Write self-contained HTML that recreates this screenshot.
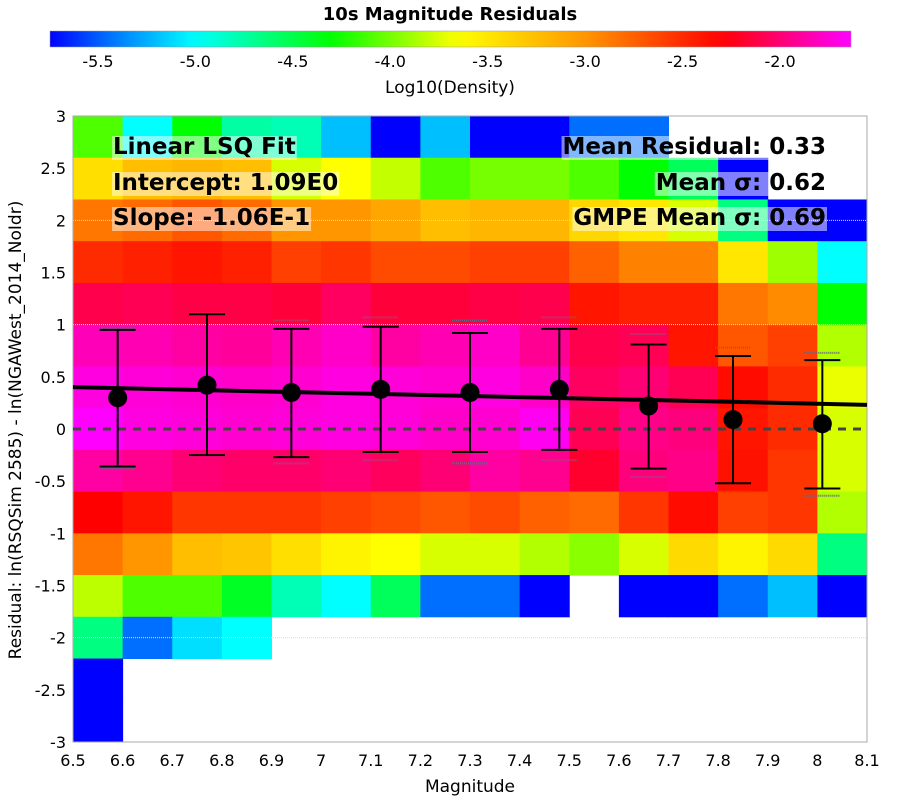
<!DOCTYPE html>
<html><head><meta charset="utf-8"><style>
body{margin:0;background:#fff;width:900px;height:800px;overflow:hidden}
svg{font-family:"DejaVu Sans","Liberation Sans",sans-serif}
</style></head><body>
<svg id="chart" width="900" height="800" xmlns="http://www.w3.org/2000/svg">
<text x="450" y="20" text-anchor="middle" font-size="18" font-weight="bold">10s Magnitude Residuals</text>
<defs><linearGradient id="cg" x1="0" x2="1" y1="0" y2="0"></linearGradient></defs>
<rect x="50" y="31" width="801" height="16" fill="url(#cg)" stroke="#999" stroke-width="0.5"/>
<g id="cbticks"></g>
<text x="450" y="93" text-anchor="middle" font-size="17">Log10(Density)</text>
<g id="cells"></g>
<g id="grid"></g>
<g id="axes"></g>
<g id="marks"></g>
<g id="ann"></g>
<text x="470" y="792" text-anchor="middle" font-size="17">Magnitude</text>
<text transform="translate(21,430) rotate(-90)" text-anchor="middle" font-size="17">Residual: ln(RSQSim 2585) - ln(NGAWest_2014_NoIdr)</text>
</svg>
<script>
const xTicks=[6.5,6.6,6.7,6.8,6.9,7,7.1,7.2,7.3,7.4,7.5,7.6,7.7,7.8,7.9,8,8.1];
const yTicks=[3,2.5,2,1.5,1,0.5,0,-0.5,-1,-1.5,-2,-2.5,-3];
const cbTicks=[-5.5,-5.0,-4.5,-4.0,-3.5,-3.0,-2.5,-2.0];
const magBins=[6.5,6.6,6.7,6.8,6.9,7.0,7.1,7.2,7.3,7.4,7.5,7.6,7.7,7.8,7.9,8.0];
const resBinsTop=[3,2.6,2.2,1.8,1.4,1.0,0.6,0.2,-0.2,-0.6,-1.0,-1.4,-1.8,-2.2,-2.6];
const N=null;
const density=[
[-4.1,-5.0,-4.3,-4.75,-4.8,-5.2,-5.75,-5.2,-5.75,-5.75,-5.45,-5.45,N,N,N,N],
[-3.45,-3.25,-3.2,-3.25,-3.75,-3.65,-3.8,-4.1,-4.0,-4.0,-4.1,-4.3,-4.55,-5.75,N,N],
[-2.85,-2.8,-2.7,-2.8,-3.0,-3.0,-3.1,-3.25,-3.2,-3.2,-3.4,-3.5,-3.75,-4.65,-5.75,-5.75],
[-2.5,-2.45,-2.4,-2.45,-2.6,-2.55,-2.65,-2.65,-2.6,-2.6,-2.75,-2.9,-2.9,-3.5,-3.9,-5.0],
[-2.1,-2.08,-2.12,-2.12,-2.15,-2.05,-2.15,-2.15,-2.12,-2.1,-2.4,-2.45,-2.45,-2.85,-2.95,-4.3],
[-1.82,-1.84,-1.88,-1.9,-1.84,-1.78,-1.88,-1.84,-1.78,-1.92,-2.1,-2.08,-2.4,-2.7,-2.6,-3.85],
[-1.72,-1.74,-1.76,-1.78,-1.76,-1.72,-1.74,-1.76,-1.72,-1.78,-2.05,-2.0,-2.08,-2.35,-2.5,-3.7],
[-1.64,-1.72,-1.74,-1.76,-1.74,-1.72,-1.74,-1.78,-1.76,-1.68,-2.08,-1.95,-1.98,-2.4,-2.5,-3.75],
[-1.88,-1.93,-2.0,-2.03,-2.03,-2.0,-2.06,-2.0,-1.88,-1.93,-2.18,-1.98,-1.95,-2.38,-2.55,-3.75],
[-2.3,-2.4,-2.55,-2.55,-2.55,-2.6,-2.65,-2.7,-2.65,-2.75,-2.8,-2.55,-2.35,-2.6,-2.55,-3.85],
[-2.85,-3.0,-3.25,-3.3,-3.45,-3.58,-3.65,-3.75,-3.75,-3.85,-3.95,-3.75,-3.42,-3.58,-3.42,-4.65],
[-3.82,-4.1,-4.1,-4.4,-4.8,-5.0,-4.55,-5.45,-5.45,-5.75,N,-5.75,-5.75,-5.45,-5.2,-5.75],
[-4.65,-5.45,-5.1,-5.0,N,N,N,N,N,N,N,N,N,N,N,N],
[-5.75,N,N,N,N,N,N,N,N,N,N,N,N,N,N,N],
[-5.75,N,N,N,N,N,N,N,N,N,N,N,N,N,N,N]];
const ptMag=[6.59,6.77,6.94,7.12,7.30,7.48,7.66,7.83,8.01];
const ptMean=[0.30,0.42,0.35,0.38,0.35,0.38,0.22,0.09,0.05];
const ptHi=[0.95,1.10,0.96,0.98,0.92,0.96,0.81,0.70,0.66];
const ptLo=[-0.36,-0.25,-0.27,-0.22,-0.22,-0.20,-0.38,-0.52,-0.57];
const gmpeHi=[0.97,1.11,1.04,1.07,1.04,1.07,0.91,0.78,0.73];
const gmpeLo=[-0.38,-0.26,-0.33,-0.30,-0.33,-0.30,-0.46,-0.60,-0.64];
const fitIntercept=1.09, fitSlope=-0.106;
const NS='http://www.w3.org/2000/svg';
const X0=73,X1=867,Y0=116,Y1=742;
const sx=m=>X0+(m-6.5)/1.6*(X1-X0);
const sy=v=>Y0+(3-v)/6*(Y1-Y0);
const cbx=v=>50+(v+5.746)/4.11*801;
const stops=[[-5.75,0,0,255],[-5.45,0,110,255],[-5.0,0,255,255],[-4.3,0,255,0],[-3.65,255,255,0],[-3.0,255,150,0],[-2.3,255,0,0],[-1.64,255,0,255]];
function cmap(v){if(v<=stops[0][0])return 'rgb(0,0,255)';for(let i=1;i<stops.length;i++){if(v<=stops[i][0]){const a=stops[i-1],b=stops[i],t=(v-a[0])/(b[0]-a[0]);return `rgb(${Math.round(a[1]+t*(b[1]-a[1]))},${Math.round(a[2]+t*(b[2]-a[2]))},${Math.round(a[3]+t*(b[3]-a[3]))})`;}}return 'rgb(255,0,255)';}
function mk(t,at,p){const e=document.createElementNS(NS,t);for(const k in at)e.setAttribute(k,at[k]);if(p)p.appendChild(e);return e;}
const g=document.getElementById('cg');
for(let i=0;i<=40;i++){const v=-5.746+4.11*i/40;mk('stop',{offset:(i/40),'stop-color':cmap(v)},g);}
const cbt=document.getElementById('cbticks');
cbTicks.forEach(v=>{const t=mk('text',{x:cbx(v),y:67,'text-anchor':'middle','font-size':16},cbt);t.textContent=v.toFixed(1);

});
const cells=document.getElementById('cells');
density.forEach((row,r)=>row.forEach((v,c)=>{if(v===null)return;const x0=sx(magBins[c]),x1=sx(magBins[c]+0.1),y0=sy(resBinsTop[r]),y1=sy(resBinsTop[r]-0.4);
const e=mk('rect',{x:x0,y:y0,width:x1-x0+0.5,height:y1-y0+0.5,fill:cmap(v)},cells);

}));
const grid=document.getElementById('grid');
[2,1,-2].forEach(v=>{const l=mk('line',{x1:X0,x2:X1,y1:sy(v),y2:sy(v),stroke:'#ddd','stroke-width':1,'stroke-dasharray':'1,1'},grid);

});
const ax=document.getElementById('axes');
const fr=mk('rect',{x:X0,y:Y0,width:X1-X0,height:Y1-Y0,fill:'none',stroke:'#aaa','stroke-width':1},ax);


xTicks.forEach(v=>{const t=mk('text',{x:sx(v),y:766,'text-anchor':'middle','font-size':16},ax);t.textContent=String(v);

});
yTicks.forEach(v=>{const t=mk('text',{x:66,y:sy(v)+6,'text-anchor':'end','font-size':16},ax);t.textContent=String(v);

});
const mg=document.getElementById('marks');
const zl=mk('line',{x1:X0,x2:X1,y1:sy(0),y2:sy(0),stroke:'#444','stroke-width':3,'stroke-dasharray':'8,7'},mg);


ptMag.forEach((m,i)=>{const x=sx(m);
[gmpeHi[i],gmpeLo[i]].forEach(v=>{const d=mk('line',{x1:x-18,x2:x+18,y1:sy(v),y2:sy(v),stroke:'#668','stroke-width':2,'stroke-dasharray':'1,1'},mg);

});
const eb=mk('path',{d:`M${x},${sy(ptHi[i])}V${sy(ptLo[i])}M${x-18},${sy(ptHi[i])}h36M${x-18},${sy(ptLo[i])}h36`,stroke:'#000','stroke-width':2,fill:'none'},mg);

});
const fl=mk('line',{x1:X0,x2:X1,y1:sy(fitIntercept+fitSlope*6.5),y2:sy(fitIntercept+fitSlope*8.1),stroke:'#000','stroke-width':4},mg);


ptMag.forEach((m,i)=>{const c=mk('circle',{cx:sx(m),cy:sy(ptMean[i]),r:9.5,fill:'#000'},mg);

});
const ann=document.getElementById('ann');
const labels=[["Linear LSQ Fit",113,154,'start'],["Intercept: 1.09E0",113,190,'start'],["Slope: -1.06E-1",113,225,'start'],["Mean Residual: 0.33",826,154,'end'],["Mean σ: 0.62",826,190,'end'],["GMPE Mean σ: 0.69",826,225,'end']];
labels.forEach(([s,x,y,a])=>{const t=mk('text',{x:x,y:y,'text-anchor':a,'font-size':23,'font-weight':'bold'},ann);t.textContent=s;


const b=t.getBBox();const r=mk('rect',{x:b.x-1,y:b.y+2,width:b.width+2,height:b.height-2,fill:'rgba(255,255,255,0.5)'});ann.insertBefore(r,t);

});
</script>
</body></html>
